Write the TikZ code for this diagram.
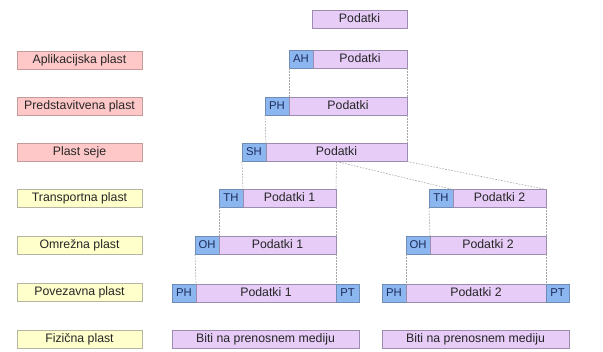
\documentclass[tikz,border=0pt]{standalone}
\usepackage{fontspec}
\setmainfont{Liberation Sans}
\definecolor{layerpink}{HTML}{FFC8C8}
\definecolor{layerpinkline}{HTML}{C49A9A}
\definecolor{layeryellow}{HTML}{FFFFCC}
\definecolor{layeryellowline}{HTML}{B4B4A0}
\definecolor{pdufill}{HTML}{E6CCF7}
\definecolor{pduline}{HTML}{9C8CAE}
\definecolor{hdrfill}{HTML}{8CB6F0}
\definecolor{hdrline}{HTML}{6E8CB4}
\definecolor{hdrtext}{HTML}{1C2C5C}
\begin{document}
\begin{tikzpicture}[x=1pt,y=-1pt,
  every node/.style={inner sep=0pt, outer sep=0pt, minimum height=18pt, text height=8.8pt, text depth=2.4pt, font=\fontsize{12.3}{14}\selectfont, text=black!85},
  layerred/.style={draw=layerpinkline, fill=layerpink, minimum width=125pt},
  layeryel/.style={draw=layeryellowline, fill=layeryellow, minimum width=125pt},
  pdu/.style={draw=pduline, fill=pdufill},
  hdr/.style={draw=hdrline, fill=hdrfill, minimum width=24pt, font=\fontsize{11.3}{13}\selectfont, text=hdrtext},
  link/.style={draw=gray!70, dash pattern=on 1.6pt off 1.4pt, line width=0.6pt}]
\useasboundingbox (0,0) rectangle (603,352);

% layer names
\node[layerred] (l7) at (79.5,60) {Aplikacijska plast};
\node[layerred] (l6) at (79.5,106) {Predstavitvena plast};
\node[layerred] (l5) at (79.5,152.5) {Plast seje};
\node[layeryel] (l4) at (79.5,198.5) {Transportna plast};
\node[layeryel] (l3) at (79.5,245) {Omrežna plast};
\node[layeryel] (l2) at (79.5,292.5) {Povezavna plast};
\node[layeryel] (l1) at (79.5,339) {Fizična plast};

% user data and application/presentation/session PDUs
\node[pdu, minimum width=95pt] (data) at (359.5,19) {Podatki};
\node[hdr] (ah) at (301,59.5) {AH};
\node[pdu, minimum width=94pt] (ahd) at (360,59.5) {Podatki};
\node[hdr] (ph) at (277,106) {PH};
\node[pdu, minimum width=118pt] (phd) at (348,106) {Podatki};
\node[hdr] (sh) at (254,152.5) {SH};
\node[pdu, minimum width=141pt] (shd) at (336.5,152.5) {Podatki};

% segment 1
\node[hdr] (th1) at (231,198.5) {TH};
\node[pdu, minimum width=93pt] (th1d) at (289.5,198.5) {Podatki 1};
\node[hdr] (oh1) at (207,245.5) {OH};
\node[pdu, minimum width=117pt] (oh1d) at (277.5,245.5) {Podatki 1};
\node[hdr] (fh1) at (184,293) {PH};
\node[pdu, minimum width=140pt] (fh1d) at (266,293) {Podatki 1};
\node[hdr, minimum width=23pt] (ft1) at (347.5,293) {PT};
\node[pdu, minimum width=187pt] (bit1) at (265.5,339.5) {Biti na prenosnem mediju};

% segment 2
\node[hdr] (th2) at (441,198.5) {TH};
\node[pdu, minimum width=93pt] (th2d) at (499.5,198.5) {Podatki 2};
\node[hdr] (oh2) at (418,245.5) {OH};
\node[pdu, minimum width=116pt] (oh2d) at (488,245.5) {Podatki 2};
\node[hdr] (fh2) at (394,293) {PH};
\node[pdu, minimum width=140pt] (fh2d) at (476,293) {Podatki 2};
\node[hdr, minimum width=23pt] (ft2) at (557.5,293) {PT};
\node[pdu, minimum width=187pt] (bit2) at (475.5,339.5) {Biti na prenosnem mediju};

% encapsulation guides
\draw[link] (ah.south west) -- (phd.north west);
\draw[link] (ahd.south east) -- (phd.north east);
\draw[link] (ph.south west) -- (shd.north west);
\draw[link] (phd.south east) -- (shd.north east);
\draw[link] (sh.south west) -- (th1d.north west);
\draw[link] (shd.south) -- (th1d.north east);
\draw[link] (shd.south) -- (th2d.north west);
\draw[link] (shd.south east) -- (th2d.north east);
\draw[link] (th1.south west) -- (oh1d.north west);
\draw[link] (th1d.south east) -- (oh1d.north east);
\draw[link] (oh1.south west) -- (fh1d.north west);
\draw[link] (oh1d.south east) -- (fh1d.north east);
\draw[link] (th2.south west) -- (oh2d.north west);
\draw[link] (th2d.south east) -- (oh2d.north east);
\draw[link] (oh2.south west) -- (fh2d.north west);
\draw[link] (oh2d.south east) -- (fh2d.north east);
\end{tikzpicture}
\end{document}
